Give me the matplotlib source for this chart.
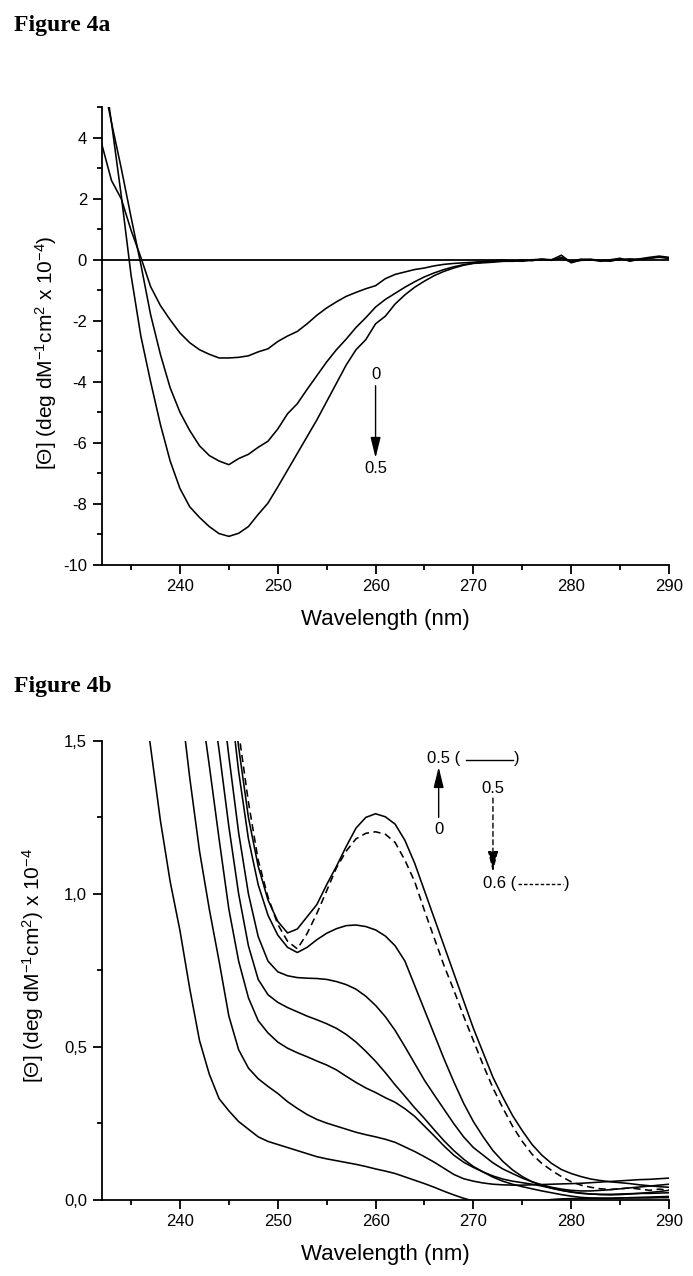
import numpy as np
import matplotlib
matplotlib.use("Agg")
import matplotlib.pyplot as plt
from matplotlib.ticker import MultipleLocator, FuncFormatter

plt.rcParams['font.family'] = ['Liberation Sans', 'DejaVu Sans']
plt.rcParams['mathtext.fontset'] = 'custom'
plt.rcParams['mathtext.rm'] = 'Liberation Sans'
plt.rcParams['mathtext.it'] = 'Liberation Sans:italic'
plt.rcParams['mathtext.bf'] = 'Liberation Sans:bold'
plt.rcParams['axes.unicode_minus'] = False

# ---------------- Figure 4a data ----------------
wl_a = np.arange(232, 291)
theta_a_0 = [3.8, 2.6, 2.0, 0.97, 0.08, -0.88, -1.5, -1.97, -2.4, -2.72,
             -2.95, -3.1, -3.22, -3.22, -3.2, -3.15, -3.02, -2.92, -2.68, -2.5,
             -2.35, -2.1, -1.82, -1.58, -1.38, -1.2, -1.07, -0.95, -0.85, -0.62,
             -0.48, -0.4, -0.32, -0.27, -0.2, -0.15, -0.12, -0.1, -0.08,
             -0.05, -0.03, 0.0, -0.05, 0.0, -0.03, 0.02, 0.0, 0.15, -0.1,
             0.0, 0.02, -0.03, 0.0, 0.05, -0.05, 0.02, 0.05, 0.08, 0.05]
theta_a_mid = [6.1, 4.5, 3.0, 1.4, -0.15, -1.8, -3.1, -4.2, -5.0, -5.6,
               -6.1, -6.42, -6.6, -6.72, -6.52, -6.38, -6.15, -5.95, -5.55, -5.05,
               -4.72, -4.25, -3.8, -3.35, -2.95, -2.6, -2.22, -1.9, -1.55, -1.3,
               -1.1, -0.9, -0.72, -0.56, -0.43, -0.32, -0.23, -0.16, -0.11,
               -0.08, -0.05, -0.05, -0.03, -0.05, 0.0, 0.02, -0.02, 0.08, -0.05,
               0.02, 0.0, -0.05, -0.02, 0.0, 0.03, 0.0, 0.05, 0.1, 0.05]
theta_a_05 = [6.7, 4.5, 2.1, -0.5, -2.5, -4.0, -5.4, -6.6, -7.5, -8.1,
              -8.45, -8.75, -8.98, -9.07, -8.97, -8.75, -8.35, -7.98, -7.45, -6.9,
              -6.35, -5.8, -5.25, -4.65, -4.05, -3.45, -2.95, -2.62, -2.1, -1.85,
              -1.45, -1.15, -0.9, -0.7, -0.52, -0.38, -0.27, -0.18, -0.12,
              -0.1, -0.08, -0.05, -0.05, -0.03, -0.02, 0.0, 0.0, 0.05, -0.08,
              -0.02, 0.0, -0.02, -0.05, 0.02, 0.0, 0.03, 0.08, 0.12, 0.08]

# ---------------- Figure 4b data ----------------
start_b = [236, 240, 242, 243, 244, 245, 245, 246]
theta_b_A = [1.72, 1.48, 1.24, 1.04, 0.88, 0.69, 0.52, 0.41, 0.33, 0.29,
             0.255, 0.23, 0.205, 0.19, 0.18, 0.17, 0.16, 0.15, 0.14, 0.133,
             0.127, 0.121, 0.115, 0.108, 0.1, 0.093, 0.085, 0.074, 0.063, 0.052,
             0.04, 0.027, 0.015, 0.004, -0.005, -0.012, -0.018, -0.02, -0.018, -0.014,
             -0.01, -0.005, 0.0, 0.002, 0.003, 0.003, 0.004, 0.004, 0.004, 0.005,
             0.005, 0.005, 0.005, 0.006, 0.006]
theta_b_B = [1.65, 1.38, 1.14, 0.95, 0.78, 0.6, 0.49, 0.43, 0.395, 0.37,
             0.347, 0.32, 0.298, 0.278, 0.262, 0.25, 0.24, 0.23, 0.22, 0.212,
             0.205, 0.197, 0.187, 0.172, 0.157, 0.14, 0.122, 0.102, 0.082, 0.068,
             0.06, 0.054, 0.05, 0.048, 0.047, 0.047, 0.048, 0.049, 0.05, 0.051,
             0.052, 0.053, 0.055, 0.057, 0.059, 0.061, 0.063, 0.065, 0.066, 0.068,
             0.07]
theta_b_C = [1.65, 1.42, 1.18, 0.95, 0.78, 0.66, 0.585, 0.545, 0.515, 0.495,
             0.48, 0.467, 0.453, 0.44, 0.424, 0.403, 0.383, 0.365, 0.35, 0.333,
             0.318, 0.297, 0.272, 0.24, 0.208, 0.175, 0.145, 0.122, 0.105, 0.09,
             0.077, 0.067, 0.06, 0.055, 0.05, 0.044, 0.037, 0.03, 0.024, 0.02,
             0.018, 0.017, 0.017, 0.018, 0.019, 0.02, 0.02, 0.021, 0.022]
theta_b_D = [1.7, 1.47, 1.22, 1.0, 0.83, 0.72, 0.67, 0.645, 0.628, 0.614,
             0.6, 0.588, 0.575, 0.56, 0.54, 0.515, 0.485, 0.452, 0.415, 0.375,
             0.338, 0.3, 0.265, 0.228, 0.192, 0.16, 0.132, 0.108, 0.09, 0.073,
             0.06, 0.05, 0.042, 0.035, 0.028, 0.022, 0.016, 0.011, 0.007, 0.005,
             0.004, 0.004, 0.005, 0.006, 0.007, 0.008, 0.009, 0.01]
theta_b_E = [1.72, 1.45, 1.2, 1.0, 0.86, 0.78, 0.745, 0.732, 0.726, 0.724,
             0.723, 0.72, 0.713, 0.703, 0.688, 0.665, 0.635, 0.598, 0.553, 0.5,
             0.445, 0.39, 0.342, 0.295, 0.248, 0.205, 0.17, 0.145, 0.12, 0.1,
             0.085, 0.07, 0.058, 0.048, 0.04, 0.034, 0.03, 0.028, 0.028, 0.03,
             0.032, 0.035, 0.038, 0.041, 0.044, 0.047, 0.05]
theta_b_F = [1.68, 1.4, 1.18, 1.03, 0.93, 0.865, 0.825, 0.808, 0.825, 0.85,
             0.871, 0.886, 0.896, 0.898, 0.893, 0.882, 0.862, 0.83, 0.78, 0.7,
             0.62, 0.54, 0.46, 0.385, 0.315, 0.255, 0.205, 0.16, 0.125, 0.097,
             0.075, 0.058, 0.046, 0.037, 0.03, 0.025, 0.021, 0.018, 0.016, 0.015,
             0.016, 0.018, 0.02, 0.023, 0.026, 0.03]
theta_b_G = [1.75, 1.48, 1.25, 1.09, 0.98, 0.91, 0.872, 0.885, 0.925, 0.965,
             1.03, 1.09, 1.155, 1.215, 1.25, 1.262, 1.252, 1.228, 1.175, 1.1,
             1.01, 0.92, 0.83, 0.74, 0.65, 0.56, 0.48, 0.4, 0.335, 0.275,
             0.225, 0.18, 0.145, 0.118, 0.098, 0.085, 0.075, 0.067, 0.062, 0.058,
             0.055, 0.052, 0.048, 0.045, 0.042, 0.04]
theta_b_H = [1.53, 1.3, 1.11, 0.99, 0.9, 0.845, 0.82, 0.87, 0.936, 1.01,
             1.085, 1.14, 1.18, 1.198, 1.203, 1.195, 1.168, 1.11, 1.04, 0.945,
             0.855, 0.765, 0.685, 0.6, 0.52, 0.44, 0.365, 0.3, 0.24, 0.19,
             0.148, 0.118, 0.095, 0.075, 0.058, 0.047, 0.04, 0.035, 0.033, 0.035,
             0.038, 0.034, 0.03, 0.034, 0.03]
solid_b = [theta_b_A, theta_b_B, theta_b_C, theta_b_D, theta_b_E, theta_b_F, theta_b_G]

xticks = [240, 250, 260, 270, 280, 290]

# ---------------- Figure ----------------
W, H = 693, 1276
fig = plt.figure(figsize=(W / 100, H / 100), dpi=100)

LW = 1.15
SP = 1.3


def style(ax):
    for s in ('top', 'right'):
        ax.spines[s].set_visible(False)
    for s in ('left', 'bottom'):
        ax.spines[s].set_linewidth(SP)
    ax.tick_params(which='major', direction='out', length=6.5, width=SP,
                   labelsize=12, pad=4, color='black')
    ax.tick_params(which='minor', direction='out', length=3.6, width=SP)
    ax.set_xlim(232, 290)
    ax.set_xticks(xticks)
    ax.xaxis.set_minor_locator(MultipleLocator(5))
    ax.set_xlabel('Wavelength (nm)', fontsize=16)
    ax.xaxis.set_label_coords(0.5, -0.097)


ax1 = fig.add_axes([101.7 / W, 1 - 564.7 / H, 567.3 / W, 457.4 / H])
style(ax1)
ax1.set_ylim(-10, 5)
ax1.yaxis.set_major_locator(MultipleLocator(2))
ax1.yaxis.set_minor_locator(MultipleLocator(1))
ax1.set_yticks([-10, -8, -6, -4, -2, 0, 2, 4])
ax1.axhline(0, color='black', lw=SP)
for series in (theta_a_0, theta_a_mid, theta_a_05):
    ax1.plot(wl_a, series, color='black', lw=LW)
ax1.set_ylabel(r'[Θ] (deg dM$^{-1}$cm$^{2}$ x 10$^{-4}$)', fontsize=15)
ax1.yaxis.set_label_coords(-0.076, 0.463)

ax1.text(260, -3.77, '0', ha='center', va='center', fontsize=12)
ax1.text(260, -6.83, '0.5', ha='center', va='center', fontsize=12)
ax1.annotate('', xy=(260, -6.5), xytext=(260, -4.13),
             arrowprops=dict(arrowstyle='-|>,head_length=0.9,head_width=0.22',
                             color='black', lw=1.0, shrinkA=0, shrinkB=0,
                             mutation_scale=14))

ax2 = fig.add_axes([101.7 / W, 1 - 1199.5 / H, 567.3 / W, 458.5 / H])
style(ax2)
ax2.set_ylim(0, 1.5)
ax2.set_yticks([0, 0.5, 1.0, 1.5])
ax2.yaxis.set_minor_locator(MultipleLocator(0.25))
ax2.yaxis.set_major_formatter(FuncFormatter(lambda v, p: f"{v:.1f}".replace('.', ',')))
for st, series in zip(start_b[:7], solid_b):
    ax2.plot(np.arange(st, st + len(series)), series, color='black', lw=LW)
ax2.plot(np.arange(start_b[7], start_b[7] + len(theta_b_H)), theta_b_H,
         color='black', lw=LW, linestyle=(0, (4.5, 2.8)))
ax2.set_ylabel(r'[Θ] (deg dM$^{-1}$cm$^{2}$) x 10$^{-4}$', fontsize=15)
ax2.yaxis.set_label_coords(-0.098, 0.511)

# legend-like annotations
ax2.text(265.3, 1.444, '0.5 (', ha='left', va='center', fontsize=12)
ax2.plot([269.2, 274.0], [1.438, 1.438], color='black', lw=1.0)
ax2.text(274.1, 1.444, ')', ha='left', va='center', fontsize=12)
ax2.annotate('', xy=(266.45, 1.415), xytext=(266.45, 1.25),
             arrowprops=dict(arrowstyle='-|>,head_length=0.9,head_width=0.22',
                             color='black', lw=1.0, shrinkA=0, shrinkB=0,
                             mutation_scale=14))
ax2.text(266.45, 1.212, '0', ha='center', va='center', fontsize=12)
ax2.text(272.0, 1.343, '0.5', ha='center', va='center', fontsize=12)
ax2.annotate('', xy=(272.0, 1.071), xytext=(272.0, 1.313),
             arrowprops=dict(arrowstyle='-|>,head_length=0.9,head_width=0.22',
                             color='black', lw=1.0, shrinkA=0, shrinkB=0,
                             linestyle=(0, (3.5, 2.5)), mutation_scale=14))
ax2.text(271.0, 1.035, '0.6 (', ha='left', va='center', fontsize=12)
ax2.plot([274.6, 279.2], [1.032, 1.032], color='black', lw=1.0,
         linestyle=(0, (2.5, 1.5)))
ax2.text(279.3, 1.035, ')', ha='left', va='center', fontsize=12)

fig.text(14 / W, 1 - 30.5 / H, 'Figure 4a', fontsize=17, fontweight='bold',
         family='Liberation Serif', va='baseline', ha='left')
fig.text(14 / W, 1 - 691.7 / H, 'Figure 4b', fontsize=17, fontweight='bold',
         family='Liberation Serif', va='baseline', ha='left')

fig.savefig('out.png', dpi=100)
